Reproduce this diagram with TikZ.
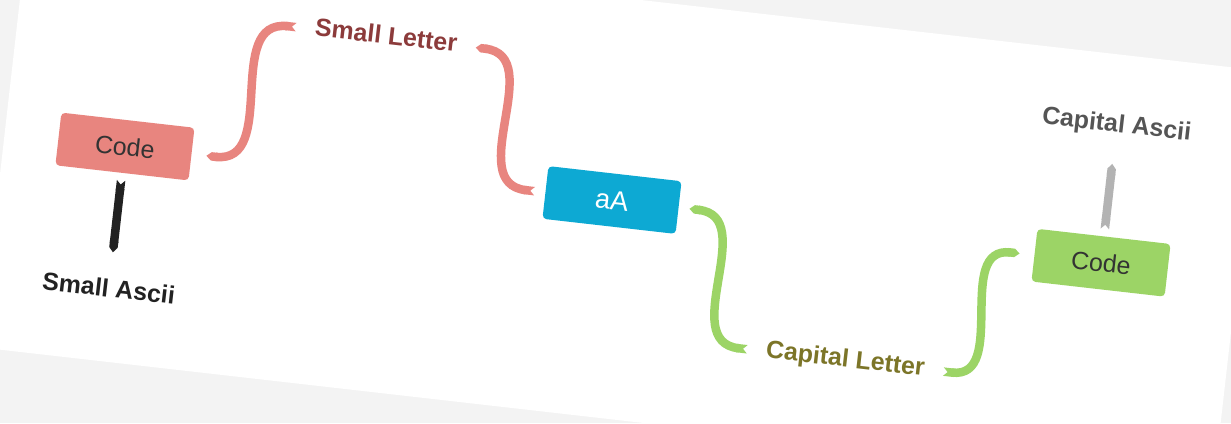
\documentclass[tikz,border=0pt]{standalone}
\usepackage{fontspec}
\setmainfont{Liberation Sans}
\usetikzlibrary{arrows.meta,positioning}

\definecolor{bggray}{HTML}{F3F3F3}
\definecolor{pinkbox}{HTML}{E8857F}
\definecolor{bluebox}{HTML}{0DA9D3}
\definecolor{greenbox}{HTML}{9CD466}
\definecolor{codetext}{HTML}{333333}
\definecolor{smalltext}{HTML}{8C3B3B}
\definecolor{capitaltext}{HTML}{7C7528}
\definecolor{asciigray}{HTML}{555555}
\definecolor{linegray}{HTML}{B3B3B3}
\definecolor{lineblack}{HTML}{222222}

\begin{document}
\begin{tikzpicture}[
                    x = 0.02cm,
                    y = 0.02cm,
                    box/.style  = {rounded corners = 0.08cm, minimum width = 2.68cm, minimum height = 1.06cm,
                                   inner sep = 0pt, outer xsep = 0.3cm, outer ysep = 0.15cm,
                                   font = \fontsize{14.2}{17}\selectfont},
                    lbl/.style  = {inner sep = 0pt, outer xsep = 0.38cm, outer ysep = 0.54cm,
                                   text height = 0.36cm, text depth = 0.1cm,
                                   font = \fontsize{14.2}{17}\selectfont\bfseries},
                    conn/.style = {line width = 0.17cm, arrows = {Triangle Cap[length=0.1cm]-Triangle Cap[reversed]}}]
    \useasboundingbox (0,0) rectangle (1231,423);
    \clip (0,0) rectangle (1231,423);
    \fill[bggray] (0,0) rectangle (1231,423);
    \begin{scope}[rotate around = {-6.5:(612,223)}, transform shape]
        \fill[white] (1,5) rectangle (1242,425);
        % boxes
        \node[box, fill = pinkbox, text = codetext]  (code1) at (122,221)  {Code};
        \node[box, fill = bluebox, text = white, outer xsep = 0.22cm,
              font = \fontsize{15.5}{18}\selectfont]  (aA)    at (612,223)  {aA};
        \node[box, fill = greenbox, text = codetext] (code2) at (1105,216) {Code};
        % labels
        \node[lbl, text = smalltext]   (sletter) at (369,359) {Small Letter};
        \node[lbl, text = capitaltext] (cletter) at (862,90)  {Capital Letter};
        \node[lbl, text = lineblack, below of = code1, node distance = 2.9cm]  (sascii) {Small Ascii};
        \node[lbl, text = asciigray, above of = code2, node distance = 2.76cm] (cascii) {Capital Ascii};
        % connectors
        \draw[conn, pinkbox]   (code1.east)    to [out = 0, in = 180, looseness = 1.2]   (sletter.west);
        \draw[conn, pinkbox]   (sletter.east)  to [out = 0, in = 180, looseness = 1.2]   (aA.west);
        \draw[conn, greenbox]  (aA.east)       to [out = 0, in = 180, looseness = 1.2]   (cletter.west);
        \draw[conn, greenbox]  (code2.west)    to [out = 180, in = 0, looseness = 1.2]   (cletter.east);
        \draw[conn, lineblack] (sascii.north)  -- (code1.south);
        \draw[conn, linegray]  (cascii.south)  -- (code2.north);
    \end{scope}
\end{tikzpicture}
\end{document}
